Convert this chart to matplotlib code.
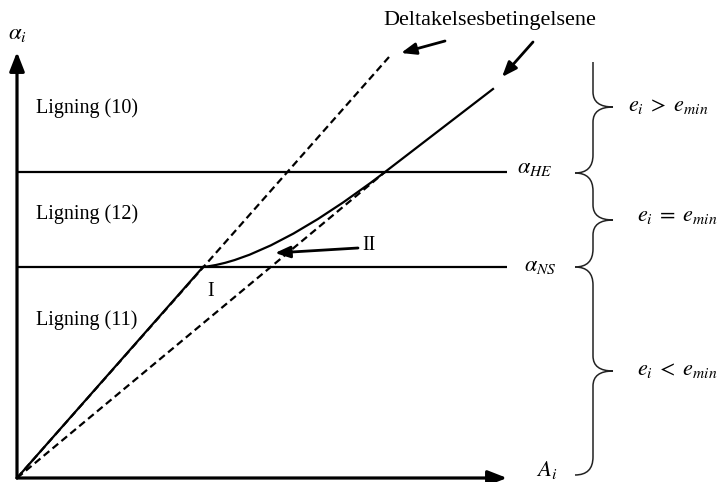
import matplotlib
matplotlib.use("Agg")
import matplotlib.pyplot as plt
from matplotlib.path import Path
from matplotlib.patches import PathPatch

plt.rcParams["font.family"] = ["Liberation Serif", "DejaVu Serif"]
plt.rcParams["mathtext.fontset"] = "stix"

# Threshold levels on the alpha axis
alpha_NS = 211
alpha_HE = 306
axis_len_x = 490
axis_len_y = 426

# Participation-condition lines (dashed)
steep_x = [0, 372]
steep_y = [0, 421]
shallow_x = [0, 368]
shallow_y = [0, 306]

# Solid response: straight to point I, bend through region (12), then straight on
solid_line_x = [0, 186]
solid_line_y = [0, 211]
bend_x = [186, 253, 368]        # start, control, end of the bend
bend_y = [211, 218, 306]
tail_x = [368, 476]
tail_y = [306, 389]

region_labels = ["Ligning (10)", "Ligning (12)", "Ligning (11)"]
region_label_y = [370, 264, 158]

cond_labels = [r"$e_i\;>\;e_{min}$", r"$e_i\;=\;e_{min}$", r"$e_i\;<\;e_{min}$"]
# braces: (bottom, top, tip, hook at top)
brace_spans = [(305, 416, 371, False), (211, 305, 258, True), (3, 211, 107, True)]
cond_label_pos = [(611, 371), (620, 261), (620, 108)]

fig = plt.figure(figsize=(7.19, 4.82), dpi=100)
ax = fig.add_axes([0, 0, 1, 1])
ax.set_xlim(-17, 702)
ax.set_ylim(-4, 478)
ax.axis("off")

LW = 1.6
dash = (0, (3.3, 1.9))

# axes with arrowheads
head = "-|>,head_length=1.15,head_width=0.45"
ax.annotate("", xy=(0, axis_len_y), xytext=(0, 0),
            arrowprops=dict(arrowstyle=head, mutation_scale=10, lw=2.3,
                            color="black", shrinkA=0, shrinkB=0))
ax.annotate("", xy=(axis_len_x, 0), xytext=(0, 0),
            arrowprops=dict(arrowstyle=head, mutation_scale=10, lw=2.3,
                            color="black", shrinkA=0, shrinkB=0))

# horizontal threshold lines
for lvl in (alpha_HE, alpha_NS):
    ax.plot([0, axis_len_x], [lvl, lvl], color="black", lw=LW, solid_capstyle="butt")

# dashed participation lines
ax.plot(steep_x, steep_y, color="black", lw=LW, linestyle=dash)
ax.plot(shallow_x, shallow_y, color="black", lw=LW, linestyle=dash)

# solid response curve
ax.plot(solid_line_x, solid_line_y, color="black", lw=LW)
bend = Path(list(zip(bend_x, bend_y)), [Path.MOVETO, Path.CURVE3, Path.CURVE3])
ax.add_patch(PathPatch(bend, facecolor="none", edgecolor="black", lw=LW))
ax.plot(tail_x, tail_y, color="black", lw=LW)

# axis labels and level labels
ax.text(0, 445, r"$\alpha_i$", fontsize=16.5, ha="center", va="center")
ax.text(530, 8, r"$A_i$", fontsize=16.5, ha="center", va="center")
ax.text(518, 309, r"$\alpha_{HE}$", fontsize=16, ha="center", va="center")
ax.text(523, 211, r"$\alpha_{NS}$", fontsize=16, ha="center", va="center")

for lab, y in zip(region_labels, region_label_y):
    ax.text(19, y, lab, fontsize=14.5, ha="left", va="center")

ax.text(194, 187, "I", fontsize=14.5, ha="center", va="center")
ax.text(352, 232, "II", fontsize=14.5, ha="center", va="center")
ax.text(473, 458, "Deltakelsesbetingelsene", fontsize=16, ha="center", va="center")

small_arrow = dict(arrowstyle="-|>,head_length=0.9,head_width=0.35",
                   mutation_scale=10, lw=2.0, color="black",
                   shrinkA=0, shrinkB=0)
ax.annotate("", xy=(384, 425), xytext=(428, 437), arrowprops=small_arrow)
ax.annotate("", xy=(485, 401), xytext=(516, 436), arrowprops=small_arrow)
ax.annotate("", xy=(258, 225), xytext=(341, 230), arrowprops=small_arrow)


def brace(y0, y1, ym, top_hook, xv=576, xh=558, xt=596, r_end=18, r_tip=15):
    verts = [(xh, y0), (xv, y0), (xv, y0 + r_end),
             (xv, ym - r_tip),
             (xv, ym), (xt, ym),
             (xv, ym), (xv, ym + r_tip)]
    codes = [Path.MOVETO, Path.CURVE3, Path.CURVE3,
             Path.LINETO,
             Path.CURVE3, Path.CURVE3,
             Path.CURVE3, Path.CURVE3]
    if top_hook:
        verts += [(xv, y1 - r_end), (xv, y1), (xh, y1)]
        codes += [Path.LINETO, Path.CURVE3, Path.CURVE3]
    else:
        verts += [(xv, y1)]
        codes += [Path.LINETO]
    return Path(verts, codes)


for (y0, y1, ym, hook) in brace_spans:
    ax.add_patch(PathPatch(brace(y0, y1, ym, hook), facecolor="none",
                           edgecolor="#222222", lw=1.1))

for lab, (x, y) in zip(cond_labels, cond_label_pos):
    ax.text(x, y, lab, fontsize=16, ha="left", va="center")

fig.savefig("out.png", dpi=100)
